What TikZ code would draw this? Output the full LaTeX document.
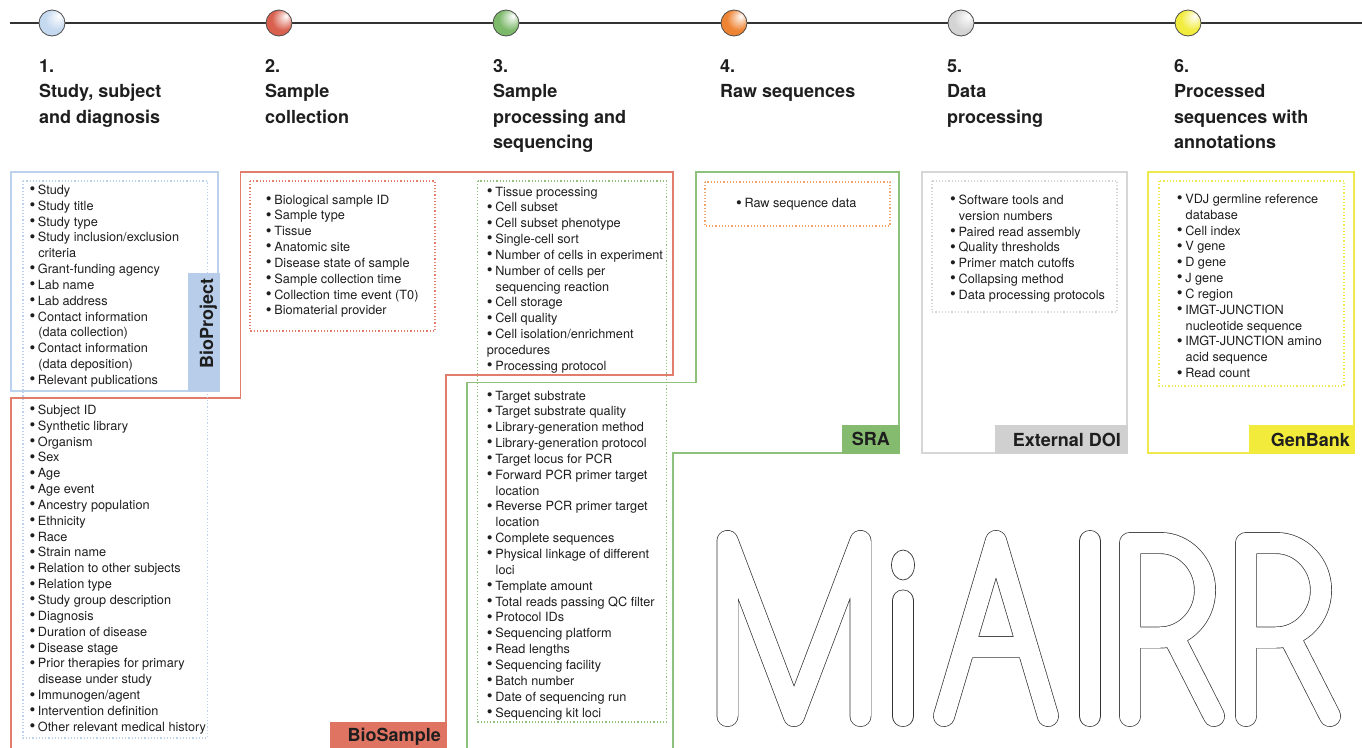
\documentclass[tikz,border=0pt]{standalone}
\usepackage{fontspec}
\setmainfont{TeX Gyre Heros}
\usepackage{tikz}
\definecolor{textDark}{HTML}{1E1E1E}
\definecolor{projectBlue}{HTML}{BCD2EC}
\definecolor{projectBlueFill}{HTML}{B7CDE9}
\definecolor{sampleRed}{HTML}{E27C6B}
\definecolor{sampleRedFill}{HTML}{DF7463}
\definecolor{sraGreen}{HTML}{8EC27C}
\definecolor{sraGreenFill}{HTML}{84BB6F}
\definecolor{rawOrange}{HTML}{F2A266}
\definecolor{doiGray}{HTML}{D6D6D6}
\definecolor{doiGrayFill}{HTML}{D0D0D0}
\definecolor{genYellow}{HTML}{F0E94C}
\definecolor{genYellowFill}{HTML}{F3EB3C}
\definecolor{stageBlue}{HTML}{C4D8EF}
\definecolor{stageRed}{HTML}{D9604E}
\definecolor{stageGreen}{HTML}{7DB96B}
\definecolor{stageOrange}{HTML}{EE8433}
\definecolor{stageGray}{HTML}{D4D4D4}
\definecolor{stageYellow}{HTML}{F2EC3E}
\newcommand{\ballShading}[1]{\pgfdeclareradialshading{ball#1}{\pgfpoint{14bp}{14bp}}{color(0bp)=(white); color(22bp)=(#1); color(50bp)=(#1)}}
\ballShading{stageBlue}
\ballShading{stageRed}
\ballShading{stageGreen}
\ballShading{stageOrange}
\ballShading{stageGray}
\ballShading{stageYellow}
\tikzstyle{frameLine} = [line width=1.3pt]
\tikzstyle{fieldFrame} = [line width=1.2pt, dotted]
\tikzstyle{fieldText} = [anchor=base west, inner sep=0pt, text=textDark, font=\fontsize{12.7}{15}\selectfont]
\tikzstyle{titleText} = [anchor=base west, inner sep=0pt, text=textDark, font=\fontsize{18}{22}\bfseries\selectfont]
\tikzstyle{badgeText} = [anchor=base east, inner sep=0pt, text=textDark, font=\fontsize{18}{22}\bfseries\selectfont]
\tikzstyle{stageDot} = [circle, minimum size=26pt, inner sep=0pt, draw=black!70, line width=0.8pt]
\tikzstyle{logoStroke} = [draw=black!80, line width=0.7pt, double=white, double distance=20.5pt, line cap=round, line join=round]
\newcommand{\listStep}{15.85}
\newcommand{\listBullet}{\raisebox{-0.4pt}{\scalebox{1.3}{\textbullet}}\hspace{2.6pt}}
\newcommand{\listIndent}{\hphantom{\scalebox{1.3}{\textbullet}}\hspace{3pt}}
\newcommand{\fieldList}[4]{
  \foreach \txt [count=\k] in {#4} {
    \node [fieldText] (#1-\k) at (#2, #3 + \listStep * \k - \listStep) {\txt};
  }
}
\newcommand{\stageTitle}[3]{
  \foreach \txt [count=\k] in {#3} {
    \node [titleText] (#1-\k) at (#2, 72 + 25.5 * \k - 25.5) {\txt};
  }
}
\newcommand{\stageBall}[3]{\node [stageDot, shading=ball#3] (#1) at (#2, 23) {};}
\newcommand{\badge}[6]{
  \fill [#2] (#3) rectangle (#4);
  \node [badgeText] (#1) at (#5) {#6};
}
\begin{document}
\begin{tikzpicture}[x=1pt, y=-1pt]
  \useasboundingbox (0,0) rectangle (1362,747);
  \coordinate (lineStart) at (10,23);
  \coordinate (lineEnd) at (1362,23);
  \draw [line width=1.3pt, black!80] (lineStart) -- (lineEnd);
  \stageBall{stage1}{52}{stageBlue}
  \stageBall{stage2}{279}{stageRed}
  \stageBall{stage3}{506}{stageGreen}
  \stageBall{stage4}{734}{stageOrange}
  \stageBall{stage5}{961}{stageGray}
  \stageBall{stage6}{1188}{stageYellow}

  \stageTitle{title1}{39}{1., {Study, subject}, and diagnosis}
  \stageTitle{title2}{265}{2., Sample, collection}
  \stageTitle{title3}{493}{3., Sample, processing and, sequencing}
  \stageTitle{title4}{720}{4., Raw sequences}
  \stageTitle{title5}{947}{5., Data, processing}
  \stageTitle{title6}{1174}{6., Processed, sequences with, annotations}

  \draw [frameLine, projectBlue] (11,172) rectangle (218,391);
  \draw [frameLine, sampleRed] (11,750) -- (11,398) -- (240.5,398) -- (240.5,172) -- (673,172) -- (673,375) -- (446,375) -- (446,750);
  \draw [frameLine, sraGreen] (467,750) -- (467,382.5) -- (696,382.5) -- (696,172) -- (899,172) -- (899,453) -- (673,453) -- (673,750);
  \draw [frameLine, doiGray] (922,172) rectangle (1127,453);
  \draw [frameLine, genYellow] (1148,172) rectangle (1354,453);

  \draw [fieldFrame, projectBlue] (23,181) rectangle (207.5,738);
  \draw [fieldFrame, sampleRed] (250,181) rectangle (435,331);
  \draw [fieldFrame, sraGreen] (477.5,181) rectangle (666.5,722);
  \draw [fieldFrame, rawOrange] (705,182) rectangle (890,226);
  \draw [fieldFrame, doiGray] (932,181) rectangle (1117,312);
  \draw [fieldFrame, genYellow] (1159,181) rectangle (1344,386);

  \fieldList{project}{29.3}{194.3}{\listBullet Study, \listBullet Study title, \listBullet Study type, \listBullet Study inclusion/exclusion, \listIndent criteria, \listBullet Grant-funding agency, \listBullet Lab name, \listBullet Lab address, \listBullet Contact information, \listIndent (data collection), \listBullet Contact information, \listIndent (data deposition), \listBullet Relevant publications}
  \fieldList{subject}{29.3}{414.3}{\listBullet Subject ID, \listBullet Synthetic library, \listBullet Organism, \listBullet Sex, \listBullet Age, \listBullet Age event, \listBullet Ancestry population, \listBullet Ethnicity, \listBullet Race, \listBullet Strain name, \listBullet Relation to other subjects, \listBullet Relation type, \listBullet Study group description, \listBullet Diagnosis, \listBullet Duration of disease, \listBullet Disease stage, \listBullet Prior therapies for primary, \listIndent disease under study, \listBullet Immunogen/agent, \listBullet Intervention definition, \listBullet Other relevant medical history}
  \fieldList{sample}{265.7}{204}{\listBullet Biological sample ID, \listBullet Sample type, \listBullet Tissue, \listBullet Anatomic site, \listBullet Disease state of sample, \listBullet Sample collection time, \listBullet Collection time event (T0), \listBullet Biomaterial provider}
  \fieldList{processing}{486.7}{196}{\listBullet Tissue processing, \listBullet Cell subset, \listBullet Cell subset phenotype, \listBullet Single-cell sort, \listBullet Number of cells in experiment, \listBullet Number of cells per, \listIndent sequencing reaction, \listBullet Cell storage, \listBullet Cell quality, \listBullet Cell isolation/enrichment, procedures, \listBullet Processing protocol}
  \fieldList{sequencing}{486.7}{400}{\listBullet Target substrate, \listBullet Target substrate quality, \listBullet Library-generation method, \listBullet Library-generation protocol, \listBullet Target locus for PCR, \listBullet Forward PCR primer target, \listIndent location, \listBullet Reverse PCR primer target, \listIndent location, \listBullet Complete sequences, \listBullet Physical linkage of different, \listIndent loci, \listBullet Template amount, \listBullet Total reads passing QC filter, \listBullet Protocol IDs, \listBullet Sequencing platform, \listBullet Read lengths, \listBullet Sequencing facility, \listBullet Batch number, \listBullet Date of sequencing run, \listBullet Sequencing kit loci}
  \fieldList{raw}{736}{207.7}{\listBullet Raw sequence data}
  \fieldList{dataproc}{950}{204.3}{\listBullet Software tools and, \listIndent version numbers, \listBullet Paired read assembly, \listBullet Quality thresholds, \listBullet Primer match cutoffs, \listBullet Collapsing method, \listBullet Data processing protocols}
  \fieldList{annotation}{1176.7}{203.3}{\listBullet VDJ germline reference, \listIndent database, \listBullet Cell index, \listBullet V gene, \listBullet D gene, \listBullet J gene, \listBullet C region, \listBullet IMGT-JUNCTION, \listIndent nucleotide sequence, \listBullet IMGT-JUNCTION amino, \listIndent acid sequence, \listBullet Read count}

  \fill [projectBlueFill] (188,273) rectangle (219.5,391.5);
  \node [badgeText, rotate=90] (bioproject) at (213,278) {BioProject};
  \badge{biosample}{sampleRedFill}{330,722}{447,750}{441,741.7}{BioSample}
  \badge{sra}{sraGreenFill}{842,424.5}{899.5,453.5}{890,445.5}{SRA}
  \badge{doi}{doiGrayFill}{995,424.5}{1127.5,453.5}{1121,446}{External DOI}
  \badge{genbank}{genYellowFill}{1249,424.5}{1354.5,453.5}{1350,446}{GenBank}

  \draw [logoStroke] (727.5,716) -- (727.5,541) -- (794,716) -- (860.5,541) -- (860.5,716);
  \draw [logoStroke] (903,600.5) -- (903,716);
  \draw [draw=black!80, line width=0.7pt, fill=white] (903,565) ellipse [x radius=11.5, y radius=15];
  \draw [logoStroke] (944,716) -- (996,541) -- (1048,716) (965,647) -- (1027,647);
  \draw [logoStroke] (1090,541) -- (1090,716);
  \foreach \dx in {0,116}
    \draw [logoStroke, shift={(\dx,0)}] (1130,716) -- (1130,543) -- (1160,543) arc [start angle=-90, end angle=90, x radius=45, y radius=47.25] -- (1130,637.5) (1174,637.5) -- (1214,716);
\end{tikzpicture}
\end{document}
